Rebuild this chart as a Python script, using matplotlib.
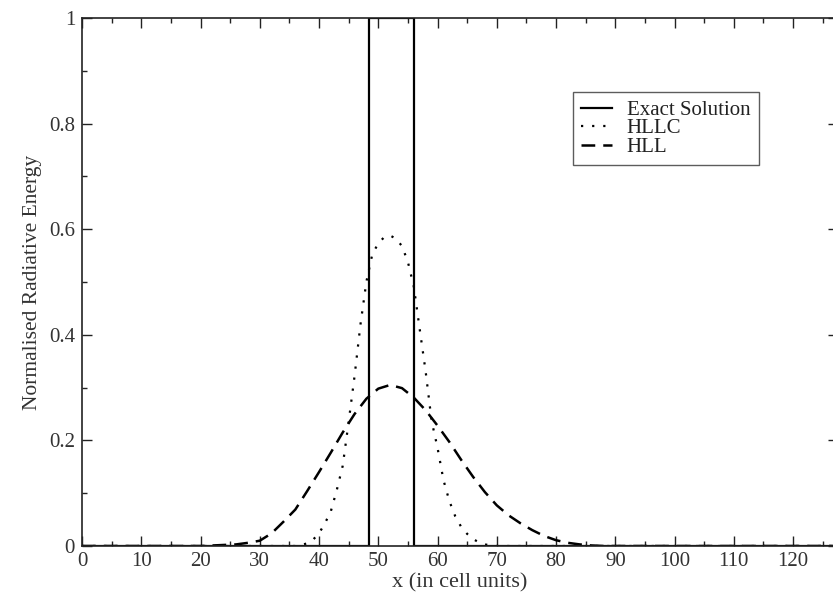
import matplotlib
matplotlib.use("Agg")
import matplotlib.pyplot as plt
from matplotlib.ticker import MultipleLocator

plt.rcParams['font.family'] = ['Liberation Serif', 'DejaVu Serif']

# Exact solution (top-hat)
exact_x = [0, 48.5, 48.5, 56, 56, 127.5]
exact_y = [0, 0, 1, 1, 0, 0]

# HLLC
hllc_x = [0, 36, 37, 38, 39, 40, 41, 42, 43, 44, 45, 46, 47, 48, 49, 50, 51, 52, 53,
          54, 55, 56, 57, 58, 59, 60, 61, 62, 63, 64, 65, 66, 67, 68, 69, 70, 127.5]
hllc_y = [0, 0, 0.002, 0.005, 0.012, 0.024, 0.043, 0.066, 0.106, 0.152, 0.235, 0.322,
          0.420, 0.501, 0.553, 0.573, 0.585, 0.588, 0.582, 0.568, 0.538, 0.491, 0.410,
          0.330, 0.237, 0.186, 0.125, 0.085, 0.056, 0.036, 0.023, 0.013, 0.007, 0.003,
          0.001, 0, 0]

# HLL
hll_x = [0, 20, 22, 24, 26, 28, 30, 32, 34, 36, 38, 40, 42, 44, 46, 48, 50, 52, 54,
         56, 58, 60, 62, 64, 66, 68, 70, 72, 74, 76, 78, 80, 82, 84, 86, 88, 90, 127.5]
hll_y = [0, 0, 0.001, 0.002, 0.003, 0.006, 0.010, 0.024, 0.046, 0.069, 0.104, 0.140,
         0.177, 0.215, 0.250, 0.279, 0.298, 0.305, 0.299, 0.281, 0.257, 0.228, 0.197,
         0.163, 0.131, 0.102, 0.077, 0.058, 0.043, 0.030, 0.019, 0.011, 0.006, 0.003,
         0.001, 0, 0, 0]

fig = plt.figure(figsize=(8.33, 5.99), dpi=100)
ax = fig.add_axes([82/833, 53/599, (837.5-82)/833, (546-18)/599])

ax.plot(exact_x, exact_y, color='black', lw=1.6, ls='-', label='Exact Solution')
ax.plot(hllc_x, hllc_y, color='black', lw=1.6, ls=(0, (1, 4)), label='HLLC')
ax.plot(hll_x, hll_y, color='black', lw=1.8, ls=(0, (5.5, 3.2)), label='HLL')

ax.set_xlim(0, 127.5)
ax.set_ylim(0, 1)
ax.xaxis.set_major_locator(MultipleLocator(10))
ax.xaxis.set_minor_locator(MultipleLocator(5))
ax.yaxis.set_major_locator(MultipleLocator(0.2))
ax.yaxis.set_minor_locator(MultipleLocator(0.1))
ax.set_yticks([0, 0.2, 0.4, 0.6, 0.8, 1])
ax.set_yticklabels(['0', '0.2', '0.4', '0.6', '0.8', '1'])

ax.tick_params(which='both', direction='in', top=True, right=True, labelsize=15,
               width=1, colors='#222222', labelcolor='#333333')
ax.tick_params(axis='y', pad=5)
ax.tick_params(axis='x', pad=4.5)
ax.tick_params(which='major', length=7)
ax.tick_params(which='minor', length=3.5)
for s in ax.spines.values():
    s.set_linewidth(1.2)
    s.set_color('#222222')

ax.set_xlabel('x (in cell units)', fontsize=16, color='#333333', labelpad=1.5)
ax.set_ylabel('Normalised Radiative Energy', fontsize=15.5, color='#333333', labelpad=5)

leg = ax.legend(loc='upper left', bbox_to_anchor=((573-82)/(837.5-82), (546-92)/528),
                fontsize=15, frameon=True, fancybox=False, edgecolor='#333333',
                handlelength=1.45, handletextpad=0.72, labelspacing=-0.05,
                borderpad=0.4, borderaxespad=0)
leg.get_frame().set_linewidth(1.0)
for t in leg.get_texts():
    t.set_color('#222222')

fig.savefig('out.png', dpi=100)
